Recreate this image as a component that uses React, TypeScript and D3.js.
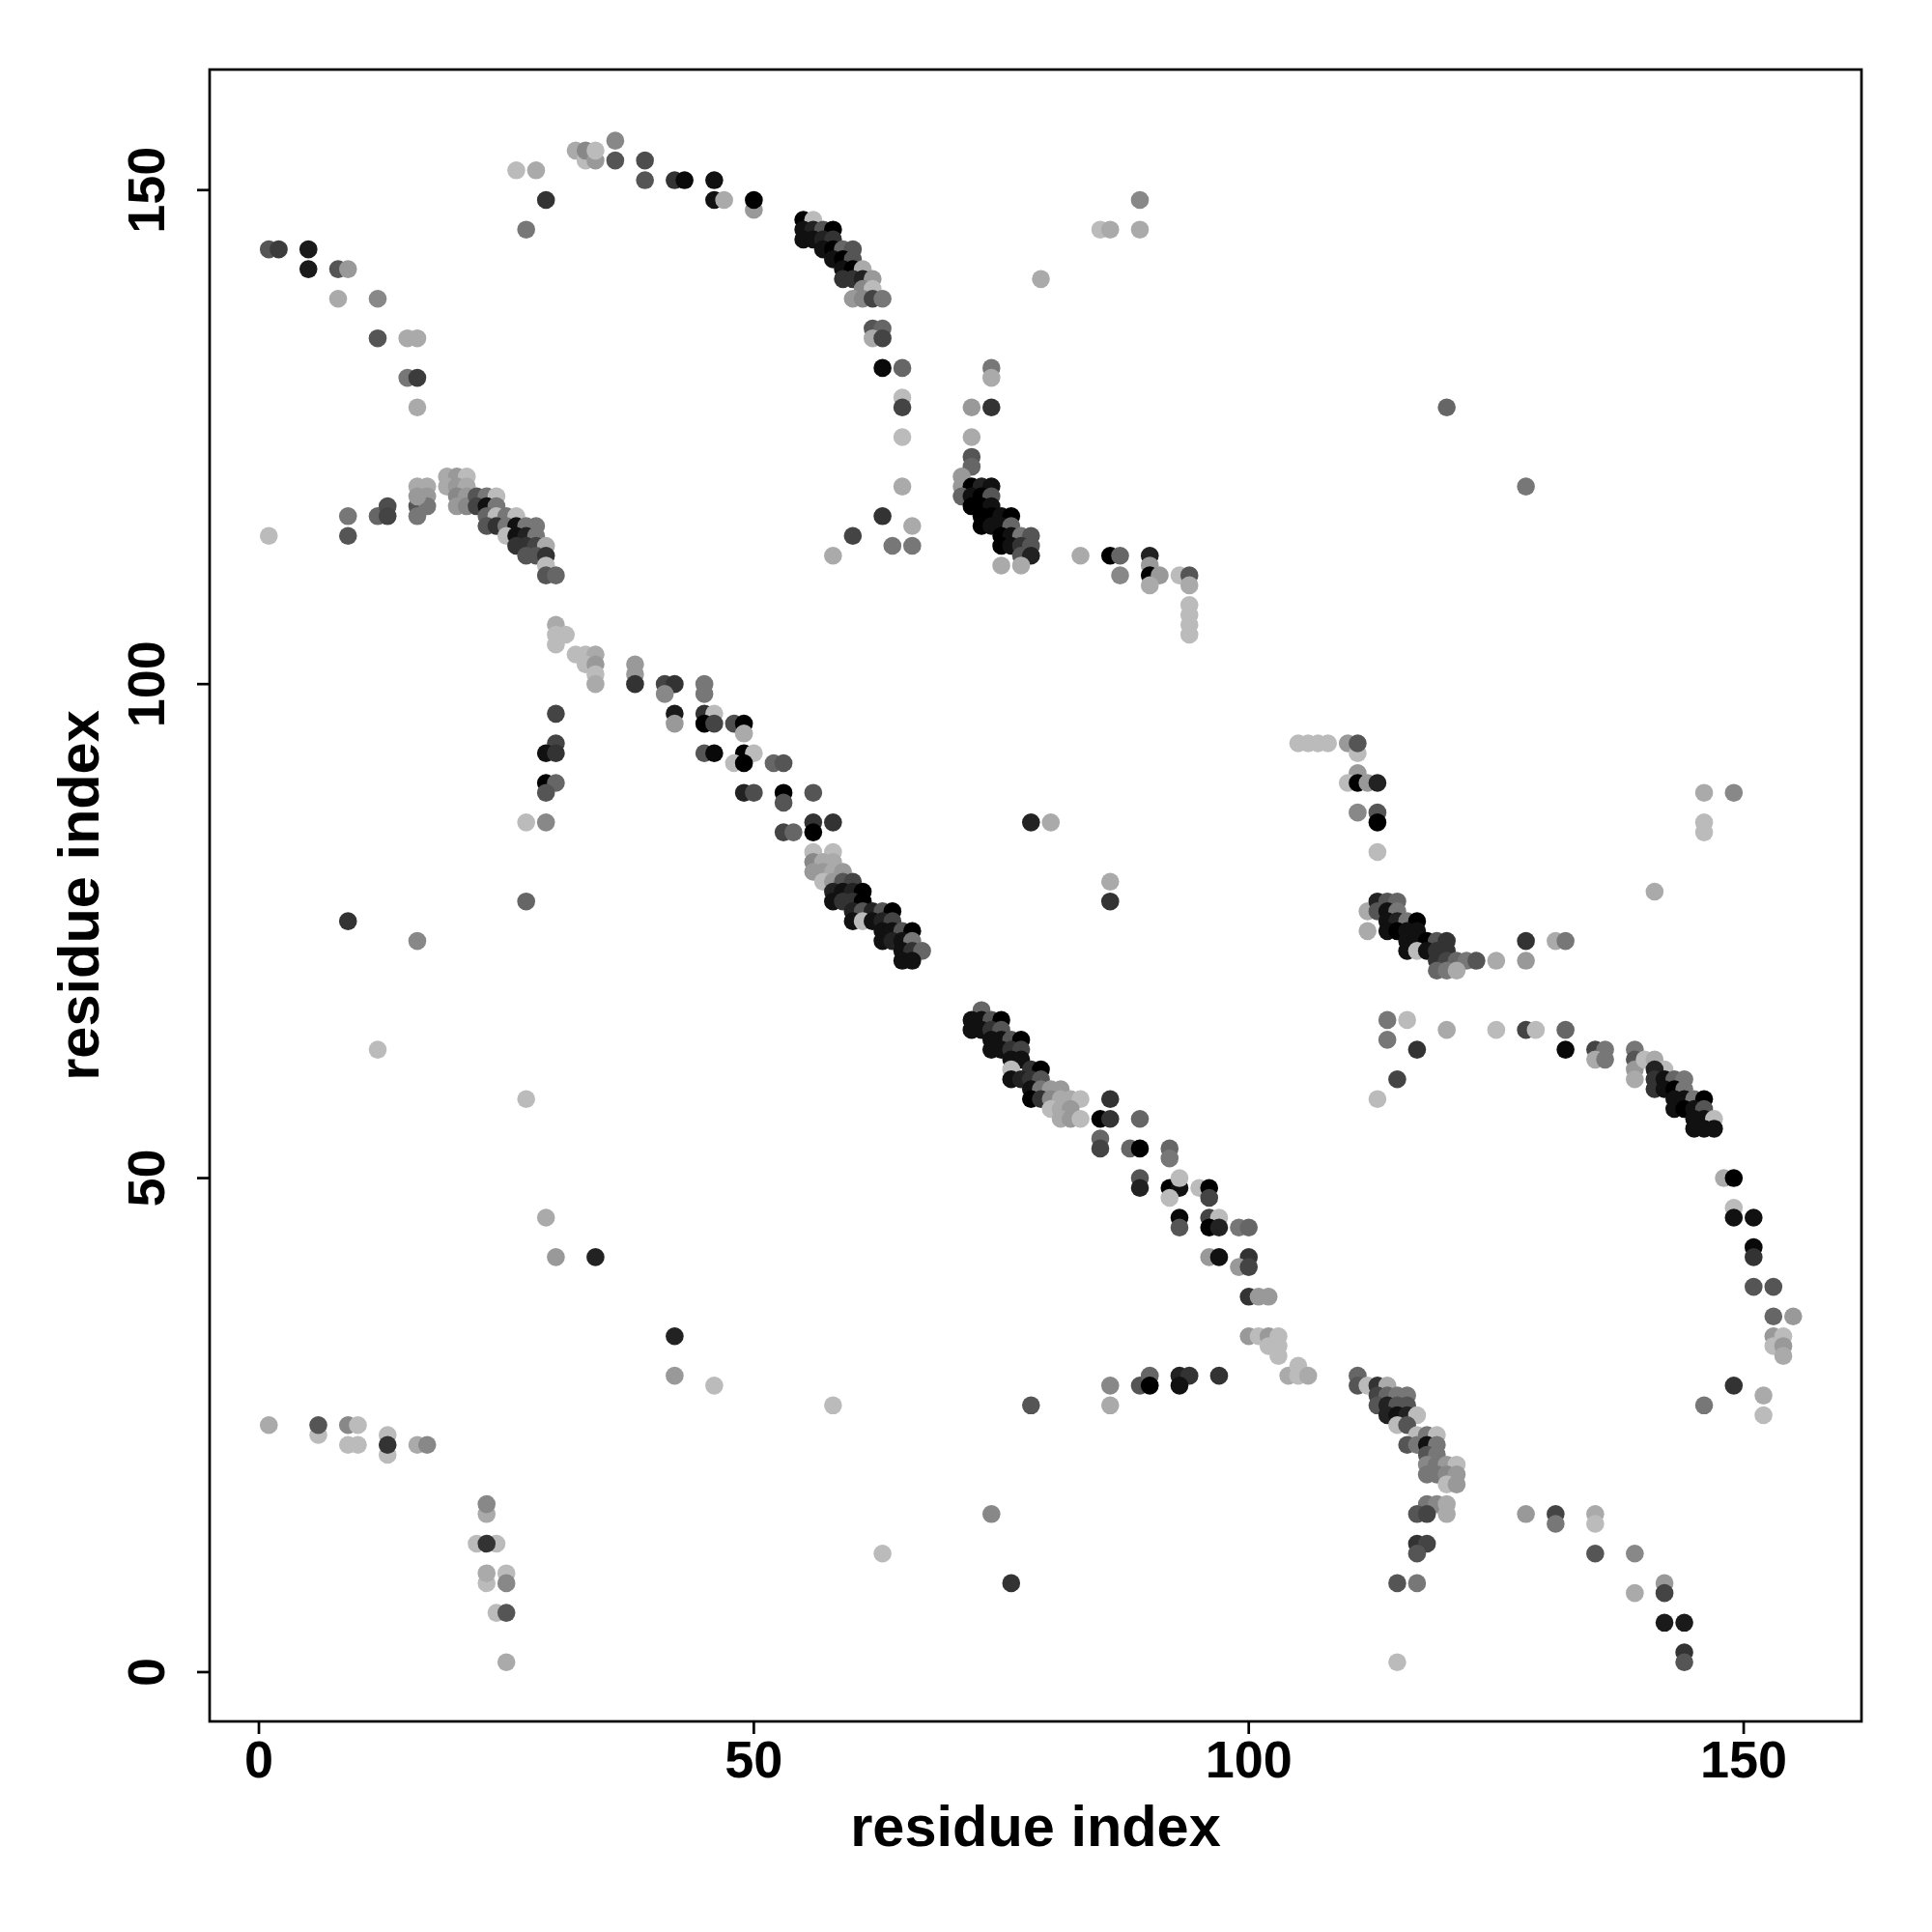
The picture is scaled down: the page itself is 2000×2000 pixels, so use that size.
import React from "react";
import * as d3 from "d3";

// Each contact: [residue i, residue j, shade level 0 (black) .. 11 (light grey)]
const arcTopLeft = [
  [1,144,5],[2,144,3.5],[5,144,1.5],[5,142,1.5],[8,142,5],[9,142,9],[8,139,10],[12,139,8],
  [12,135,5],[15,135,10],[16,135,10],[15,131,7],[16,131,3.5],[16,128,10]
];
const arcTop = [
  [26,152,11],[28,152,10],[29,149,3],[27,146,7],[32,154,10],[33,153,11],[33,154,8],[34,153,9],
  [34,154,11],[36,155,8],[36,153,5],[39,153,4.5],[39,151,5],[42,151,3],[43,151,0.5],[46,151,1],
  [46,149,1],[47,149,10],[50,148,9],[50,149,0]
];
const bandA = [
  [55,147,0],[56,147,11],[55,146,1],[56,146,2],[57,146,5],[58,146,0],[55,145,1],[56,145,1],
  [57,145,2],[58,145,3],[57,144,1],[58,144,0],[59,144,6],[60,144,5],[58,143,1],[59,143,0],
  [60,143,5],[59,142,1],[60,142,0],[61,142,10],[59,141,3],[60,141,3],[61,141,2],[62,141,9],
  [61,140,8],[62,140,11],[60,139,9],[61,139,8],[62,139,4],[63,139,7],
  [62,136,5],[63,136,6],[62,135,10],[63,135,4],[63,132,0.5],[65,132,6],[65,129,11],[65,128,4],
  [65,125,11],[65,120,10]
];
const sideTop = [
  [74,132,7],[74,131,10],[72,128,9],[74,128,3],[72,125,10],[72,123,5],[72,122,6],[89,149,8],
  [85,146,11],[86,146,10],[89,146,10],[79,141,10],[120,128,6],[128,120,7]
];
const arcLeft2 = [
  [1,115,11],[9,117,7],[9,115,5],[12,117,6],[13,118,4.5],[13,117,4],[16,118,5],[16,117,7],
  [16,120,10],[17,120,10],[17,119,9],[17,118,7],[16,119,9],
  [19,121,10],[20,121,9],[21,121,11],[19,120,10],[20,120,9],[21,120,10],[20,119,8],[21,119,9],
  [20,118,9],[21,118,8],
  [22,119,5],[23,119,7],[24,119,11],[22,118,4],[23,118,1],[24,118,7],
  [23,117,6],[24,117,11],[25,117,7],[26,117,11],
  [23,116,5],[24,116,3],[25,116,7],[26,116,1],[27,116,7],[28,116,7],
  [25,115,11],[26,115,1],[27,115,2],[28,115,7],
  [26,114,3],[27,114,3],[28,114,4],[29,114,10],
  [27,113,5],[28,113,5],[29,113,3],
  [29,112,11],[29,111,5],[30,111,6]
];
const diagB = [
  [30,106,10],[30,105,11],[31,105,11],[30,104,11],[32,103,11],[33,103,11],[34,103,10],[33,102,11],
  [34,102,9],[34,101,11],[34,100,10],
  [38,102,9],[38,101,9],[38,100,3],[41,100,4],[42,100,3],[41,99,8],[45,100,7],[45,99,7],
  [42,97,1.5],[42,96,9],[45,97,3],[46,97,11],[45,96,0],[46,96,4],[48,96,4.5],[49,96,0],[49,95,10],
  [45,93,5],[46,93,0.5],[49,93,0],[50,93,11],[48,92,11],[49,92,0],[49,89,2],[50,89,4.5],
  [30,97,4],[30,94,4],[29,93,1],[30,93,3],[29,90,0],[30,90,6],[29,89,5],[27,86,11],[29,86,8]
];
const diagC = [
  [52,92,6],[53,92,5],[53,89,0],[53,88,5],[56,89,5],[56,86,3],[56,85,0],[58,86,3],[53,85,4],[54,85,6],
  [56,83,11],[58,83,11],[56,82,8],[57,82,10],[58,82,10],[56,81,9],[57,81,9],[58,81,10],[59,81,9],
  [57,80,11],[58,80,9],[59,80,5],[60,80,4],
  [58,79,2],[59,79,1],[60,79,2],[61,79,0],
  [58,78,1],[59,78,3],[60,78,3],[61,78,0],
  [60,77,2],[61,77,5],[62,77,2],[63,77,5],[64,77,0],
  [60,76,1],[61,76,11],[62,76,1],[63,76,2],[64,76,4],
  [63,75,1],[64,75,1],[65,75,5],[66,75,0],
  [63,74,1],[64,74,2],[65,74,1],[66,74,7],
  [65,73,1],[66,73,3],[67,73,6],
  [65,72,1],[66,72,1]
];
const diagD = [
  [73,67,6],[72,66,1],[73,66,1],[74,66,5],[75,66,0],[72,65,1],[73,65,1],[74,65,3],[75,65,5],
  [74,64,1],[75,64,1],[76,64,5],[77,64,0],[74,63,1],[75,63,1],[76,63,3],[77,63,4],
  [76,62,1],[77,62,1],[78,61,3],[79,61,0],[76,61,11],[76,60,1],[77,60,2],[78,60,3],[79,60,5],
  [78,59,1],[79,59,7],[80,59,9],[81,59,9],[78,58,0],[79,58,3],[80,58,8],[81,58,10],[82,58,10],[83,58,11],
  [80,57,11],[81,57,10],[82,57,9],[81,56,10],[82,56,9],[83,56,11]
];
const diagE = [
  [86,58,3],[85,56,0],[86,56,3],[89,56,6],[85,54,6],[85,53,4],[88,53,6],[89,53,0],[92,53,6],[92,52,7],
  [89,50,5],[89,49,2],[92,49,0],[93,49,1],[93,50,11],[92,48,11],[95,49,11],[96,49,0],[96,48,4],
  [93,46,0.5],[93,45,5],[96,46,4],[97,46,11],[96,45,0],[97,45,2],[99,45,7],[100,45,6],
  [96,42,9],[97,42,1],[100,42,3],[99,41,9],[100,41,4],[100,38,3],[101,38,9],[102,38,9]
];
const diagF = [
  [100,34,9],[101,34,11],[102,34,9],[103,34,11],[102,33,11],[103,33,11],[103,32,11],
  [104,30,10],[105,31,11],[105,30,11],[106,30,10]
];
const hairpinBottom = [
  [111,30,6],[111,29,5],[112,29,11],[113,29,3],[114,29,10],[113,28,4],[114,28,6],[115,28,7],[116,28,7],
  [113,27,5],[114,27,2],[115,27,5],[116,27,5],[114,26,2],[115,26,1],[116,26,2],[117,26,11],
  [115,25,11],[116,25,5],[117,24,11],[118,24,7],[119,24,11],[116,23,5],[117,23,7],[118,23,1],[119,23,7],
  [118,22,5],[119,22,7],[118,21,8],[119,21,7],[120,21,9],[121,21,11],[118,20,7],[119,20,7],[120,20,8],
  [121,20,9],[120,19,11],[121,19,9],
  [118,17,7],[119,17,8],[120,17,10],[117,16,5],[118,16,4],[120,16,10],[117,13,3],[118,13,4],[117,12,5],
  [115,9,5],[117,9,7],[115,1,11]
];
const lowerRight = [
  [128,16,9],[131,16,4],[131,15,7],[135,16,10],[135,15,11],[135,12,5],[139,12,8],[142,9,9],[142,8,4],
  [139,8,10],[142,5,1.5],[144,5,1.5],[144,2,3],[144,1,5],
  [146,27,7],[149,29,3],[152,28,10],[152,26,11],
  [153,36,6],[155,36,9],[153,34,9],[154,34,11],[153,33,11],[154,33,9],[154,32,10]
];
const arcRight = [
  [112,77,10],[112,75,10],[113,78,2],[114,78,5],[115,78,6],[113,77,5],[114,77,1],[115,77,7],
  [114,76,1],[115,76,2],[116,76,7],[117,76,0],[114,75,1],[115,75,0],[116,75,1],[117,75,1],
  [116,74,1],[117,74,1],[118,74,0],[119,74,5],[120,74,3],[116,73,1],[117,73,11],[118,73,1],[119,73,3],[120,73,3],
  [119,72,3],[120,72,4],[121,72,6],[122,72,7],[123,72,5],[125,72,10],[119,71,6],[120,71,7],[121,71,10],
  [128,74,3],[131,74,10],[132,74,7],[128,72,9],
  [114,66,7],[116,66,11],[114,64,7],[117,63,3],[115,60,4],[113,58,11],
  [120,65,10],[125,65,11],[128,65,4],[129,65,11],[132,65,6],[132,63,0.5],[135,63,4],[136,63,7],[135,62,10],[136,62,7],
  [139,63,7],[139,62,5],[139,61,9],[139,60,10],[140,62,11],[141,62,10],[142,61,11],[141,61,2],[141,60,3],[141,59,3],
  [142,60,1],[143,60,6],[144,60,7],[142,59,1],[143,59,0],[144,59,7],[143,58,1],[144,58,1],[145,58,7],[146,58,0],
  [143,57,1],[144,57,0],[145,57,1],[146,57,5],[145,56,1],[146,56,1],[147,56,11],[145,55,1],[146,55,1],[147,55,1],
  [148,50,10],[149,50,0],[149,47,11],[149,46,1],[151,46,1],[151,43,0.5],[151,42,3],[151,39,5],[153,39,5]
];
const midRight = [
  [105,94,11],[106,94,11],[107,94,11],[108,94,11],[110,94,9],[111,93,11],[111,94,5],[111,91,9],[110,90,11],
  [111,90,0],[112,90,9],[113,90,2],
  [111,87,8],[113,87,5],[113,86,0],[113,83,11],
  [146,89,10],[149,89,8],[146,86,11],[146,85,11],[141,79,10]
];
const midTop = [
  [71,121,9],[71,120,9],[72,120,0],[73,120,2],[74,120,1],[71,119,6],[72,119,1],[73,119,0],[74,119,5],
  [72,118,0],[73,118,0],[74,118,1],[73,117,0],[74,117,0],[75,117,1],[76,117,0],[73,116,0],[74,116,1],[75,116,1],[76,116,6],
  [75,115,0],[76,115,1],[77,115,7],[78,115,5],[75,114,0],[76,114,1],[77,114,3],[78,114,5],[77,113,5],[78,113,2],
  [75,112,10],[77,112,10],
  [63,117,3],[60,115,4],[58,113,10],[66,116,10],[64,114,7],[66,114,7],
  [83,113,10],[86,113,0],[87,113,6],[87,111,8],[90,113,2],[90,112,9],[90,111,0],[91,111,9],[90,110,10],
  [93,111,11],[94,111,5],[94,110,10],[94,108,11],[94,107,11],[94,106,11],[94,105,11]
];
const bottomLeft = [
  [1,25,10],[6,24,11],[6,25,5],[9,25,8],[10,25,11],[9,23,11],[10,23,11],[13,24,11],[13,22,11],[13,23,3],
  [16,23,10],[17,23,8],
  [23,16,10],[23,17,8],[22,13,11],[24,13,11],[23,13,3],[23,9,11],[23,10,10],[25,10,11],[25,9,8],
  [24,6,11],[25,6,5],[25,1,10]
];
const scattered = [
  [9,76,3],[16,74,8],[12,63,11],[27,78,6],[27,58,11],[29,46,10],[30,42,9],[34,42,2],[42,34,2],[42,30,9],[46,29,11],
  [58,27,11],[78,27,5],[86,29,8],[86,27,10],[89,29,5],[90,30,6],[90,29,0],[93,30,2],[94,30,3],[93,29,1],[97,30,3],
  [74,16,8],[63,12,11],[76,9,3],[78,86,2],[80,86,10],[86,80,10],[86,78,3]
];

const xTicks = [0, 50, 100, 150];
const yTicks = [0, 50, 100, 150];
const xLabel = "residue index";
const yLabel = "residue index";

const allPoints = [
  ...arcTopLeft, ...arcTop, ...bandA, ...sideTop, ...arcLeft2, ...diagB, ...diagC, ...diagD,
  ...diagE, ...diagF, ...hairpinBottom, ...lowerRight, ...arcRight, ...midRight, ...midTop,
  ...bottomLeft, ...scattered
];

export default function App() {
  const left = 217, right = 1927, top = 72, bottom = 1782;
  const x = d3.scaleLinear().domain([-4.98, 161.9]).range([left, right]);
  const y = d3.scaleLinear().domain([-4.99, 162.2]).range([bottom, top]);
  const shade = d3.scaleLinear<string>().domain([0, 15]).range(["#000000", "#ffffff"]);
  const font = "'Liberation Sans', Arial, Helvetica, sans-serif";
  const tickLen = 13;
  return (
    <svg width={2000} height={2000} style={{ position: "absolute", left: 0, top: 0, background: "#fff" }}>
      <rect x={0} y={0} width={2000} height={2000} fill="#fff" />
      <g>
        {allPoints.map((p, i) => (
          <circle key={i} cx={x(p[0])} cy={y(p[1])} r={9.3} fill={shade(p[2])} />
        ))}
      </g>
      <rect x={left} y={top} width={right - left} height={bottom - top} fill="none" stroke="#000" strokeWidth={2.7} />
      {xTicks.map((t) => (
        <g key={"x" + t}>
          <line x1={x(t)} x2={x(t)} y1={bottom} y2={bottom + tickLen} stroke="#000" strokeWidth={2.7} />
          <text x={x(t)} y={1840} textAnchor="middle" fontFamily={font} fontWeight="bold" fontSize={54}>{t}</text>
        </g>
      ))}
      {yTicks.map((t) => (
        <g key={"y" + t}>
          <line x1={left} x2={left - tickLen} y1={y(t)} y2={y(t)} stroke="#000" strokeWidth={2.7} />
          <text transform={`translate(170,${y(t)}) rotate(-90)`} textAnchor="middle" fontFamily={font} fontWeight="bold" fontSize={54}>{t}</text>
        </g>
      ))}
      <text x={(left + right) / 2} y={1911} textAnchor="middle" fontFamily={font} fontWeight="bold" fontSize={59.5}>{xLabel}</text>
      <text transform={`translate(102,${(top + bottom) / 2}) rotate(-90)`} textAnchor="middle" fontFamily={font} fontWeight="bold" fontSize={59.5}>{yLabel}</text>
    </svg>
  );
}
